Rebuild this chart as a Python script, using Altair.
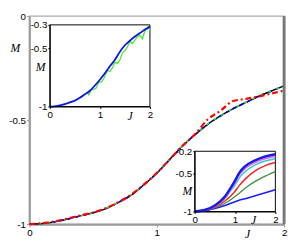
import altair as alt
import pandas as pd

# ---------------- data ----------------
# main panel
J = [0.0, 0.1, 0.2, 0.3, 0.4, 0.5, 0.6, 0.7, 0.8, 0.9, 1.0,
     1.1, 1.2, 1.3, 1.4, 1.5, 1.6, 1.7, 1.8, 1.9, 2.0]
M_BLACK = [-1.0, -0.997, -0.988, -0.975, -0.96, -0.945, -0.925, -0.895, -0.86, -0.81, -0.755,
           -0.69, -0.625, -0.57, -0.52, -0.48, -0.445, -0.415, -0.385, -0.36, -0.335]
M_RED = [-1.0, -0.995, -0.986, -0.973, -0.958, -0.944, -0.923, -0.894, -0.858, -0.809, -0.754,
         -0.69, -0.625, -0.568, -0.497, -0.455, -0.408, -0.398, -0.386, -0.372, -0.358]
M_GREEN = [-1.0, -0.997, -0.987, -0.975, -0.96, -0.944, -0.924, -0.894, -0.859, -0.81, -0.754,
           -0.689, -0.624, -0.569, -0.519, -0.479, -0.444, -0.414, -0.384, -0.359, -0.334]
M_BLUE = [-1.0, -0.997, -0.988, -0.976, -0.961, -0.945, -0.925, -0.895, -0.86, -0.811, -0.755,
          -0.69, -0.625, -0.57, -0.52, -0.48, -0.445, -0.415, -0.385, -0.36, -0.335]

# inset 1 (top left)
J1 = J
M1_BLUE = [-1.0, -0.998, -0.99, -0.98, -0.965, -0.95, -0.925, -0.895, -0.865, -0.82, -0.77,
           -0.715, -0.655, -0.6, -0.53, -0.475, -0.435, -0.4, -0.37, -0.34, -0.315]
J1_GREEN = [0.0, 0.2, 0.4, 0.6, 0.75, 0.78, 0.82, 0.88, 0.92, 0.98, 1.03, 1.08, 1.15, 1.2,
            1.26, 1.3, 1.35, 1.4, 1.45, 1.5, 1.55, 1.6, 1.65, 1.7, 1.75, 1.8, 1.85, 1.9,
            1.95, 1.97, 2.0]
M1_GREEN = [-1.0, -0.99, -0.965, -0.925, -0.88, -0.9, -0.86, -0.85, -0.845, -0.79, -0.79,
            -0.76, -0.69, -0.7, -0.66, -0.62, -0.63, -0.6, -0.54, -0.52, -0.49, -0.44,
            -0.46, -0.43, -0.4, -0.39, -0.42, -0.35, -0.33, -0.31, -0.35]

# inset 2 (bottom right)
J2 = [0.0, 0.25, 0.5, 0.75, 0.9, 1.0, 1.1, 1.25, 1.5, 1.75, 2.0]
M2_SERIES = {
    "s1": [-1, -0.99, -0.96, -0.92, -0.89, -0.87, -0.85, -0.83, -0.79, -0.75, -0.71],
    "s2": [-1, -0.99, -0.95, -0.89, -0.84, -0.80, -0.76, -0.69, -0.60, -0.53, -0.47],
    "s3": [-1, -0.985, -0.94, -0.86, -0.79, -0.73, -0.66, -0.57, -0.46, -0.39, -0.35],
    "s4": [-1, -0.98, -0.93, -0.83, -0.72, -0.65, -0.56, -0.47, -0.38, -0.33, -0.30],
    "s5": [-1, -0.98, -0.93, -0.82, -0.70, -0.62, -0.52, -0.43, -0.35, -0.30, -0.27],
    "s6": [-1, -0.98, -0.92, -0.80, -0.68, -0.59, -0.49, -0.40, -0.32, -0.27, -0.24],
}
M2_COLORS = {"s1": "#1a1aff", "s2": "#3c903c", "s3": "#ff2020",
             "s4": "#33cccc", "s5": "#ee66dd", "s6": "#1a1aee"}
M2_WIDTH = {"s1": 1.5, "s2": 1.3, "s3": 1.5, "s4": 1.5, "s5": 1.5, "s6": 2.5}

# tick values and labels
MAIN_X_TICKS = [0, 1, 2]
MAIN_X_LABELS = ["0", "1", "2"]
MAIN_Y_TICKS = [-1, -0.5, 0]
MAIN_Y_LABELS = ["-1", "-0.5", "0"]
IN1_Y_TICKS = [-1, -0.5, -0.3]
IN1_Y_LABELS = ["-1", "-0.5", "-0.3"]
IN2_Y_TICKS = [-1, -0.5, -0.2]
IN2_Y_LABELS = ["-1", "-0.5", "-0.2"]

W, H = 262, 214
SANS = "Liberation Sans"
SERIF = "Liberation Serif"


def label_expr(ticks, labels):
    expr = "''"
    for t, l in zip(ticks, labels):
        expr = f"abs(datum.value - ({t})) < 1e-6 ? '{l}' : ({expr})"
    return expr


def make_axis(ticks, labels, title, tx, ty, color, dwidth, offset=0, orient="bottom",
              tsize=3, zindex=0):
    return alt.Axis(
        values=ticks, labelExpr=label_expr(ticks, labels), orient=orient, offset=offset,
        grid=False, domainColor=color, domainWidth=dwidth, tickColor=color,
        tickSize=tsize, tickWidth=1, labelFont=SANS, labelFontSize=10, labelColor="black",
        labelPadding=1, labelFlush=False, labelOverlap=False, labelBound=False,
        title=title, titleFont=SERIF, titleFontStyle="italic", titleFontWeight="normal",
        titleFontSize=12, titleColor="black", titleAngle=0, titleX=tx, titleY=ty,
        titleAlign="center", titleBaseline="middle", zindex=zindex,
    )


# ---------------- main panel ----------------
mx = alt.Scale(domain=[0, 2], range=[0, W], nice=False, zero=False)
my = alt.Scale(domain=[-1, 0], range=[H, 0], nice=False, zero=False)
ax_main_x = make_axis(MAIN_X_TICKS, MAIN_X_LABELS, "J", 224, 10, "#999999", 2)
ax_main_y = make_axis(MAIN_Y_TICKS, MAIN_Y_LABELS, "M", -15, 32, "#999999", 2, orient="left")


def main_line(vals, color, width, dash=None):
    df = pd.DataFrame({"J": J, "M": vals})
    kw = dict(color=color, strokeWidth=width, interpolate="monotone")
    if dash:
        kw["strokeDash"] = dash
    return alt.Chart(df).mark_line(**kw).encode(
        x=alt.X("J:Q", scale=mx, axis=ax_main_x),
        y=alt.Y("M:Q", scale=my, axis=ax_main_y),
    )


right_border = alt.Chart(pd.DataFrame({"J": [2]})).mark_rule(
    color="#777777", strokeWidth=3).encode(
    x=alt.X("J:Q", scale=mx, axis=ax_main_x))

main = alt.layer(
    main_line(M_BLACK, "black", 1.5),
    main_line(M_BLUE, "#0000ff", 1.6, [4, 4]),
    main_line(M_GREEN, "#33dd33", 1.6, [3, 6]),
    main_line(M_RED, "#ff0000", 2.2, [6, 3, 2, 3]),
    right_border,
)

# ---------------- inset 1 ----------------
i1x = alt.Scale(domain=[0, 2], range=[21, 124], nice=False, zero=False)
i1y = alt.Scale(domain=[-1, -0.3], range=[93, 9], nice=False, zero=False)
ax_i1x = make_axis(MAIN_X_TICKS, MAIN_X_LABELS, "J", 103, 9, "black", 1,
                   offset=93 - H, tsize=2, zindex=1)
ax_i1y = make_axis(IN1_Y_TICKS, IN1_Y_LABELS, "M", -10, 52, "black", 1,
                   offset=-21, orient="left", tsize=2, zindex=1)

frame1 = alt.Chart(pd.DataFrame({"x": [0], "x2": [2], "y": [-1], "y2": [-0.3]})).mark_rect(
    fillOpacity=0, stroke="black", strokeWidth=1).encode(
    x=alt.X("x:Q", scale=i1x, axis=ax_i1x), x2="x2:Q",
    y=alt.Y("y:Q", scale=i1y, axis=ax_i1y), y2="y2:Q")


def in1_line(js, vals, color, width, interp="linear"):
    df = pd.DataFrame({"J": js, "M": vals})
    return alt.Chart(df).mark_line(color=color, strokeWidth=width, interpolate=interp).encode(
        x=alt.X("J:Q", scale=i1x, axis=ax_i1x),
        y=alt.Y("M:Q", scale=i1y, axis=ax_i1y),
    )


inset1 = alt.layer(
    frame1,
    in1_line(J1_GREEN, M1_GREEN, "#44ee22", 1.3),
    in1_line(J1, M1_BLUE, "#1010ee", 1.8, "monotone"),
)

# ---------------- inset 2 ----------------
i2x = alt.Scale(domain=[0, 2], range=[170, 253], nice=False, zero=False)
i2y = alt.Scale(domain=[-1, -0.2], range=[201, 139], nice=False, zero=False)
ax_i2x = make_axis(MAIN_X_TICKS, MAIN_X_LABELS, "J", 230, 8, "black", 1,
                   offset=201 - H, tsize=2, zindex=1)
ax_i2y = make_axis(IN2_Y_TICKS, IN2_Y_LABELS, "M", -8, 179, "black", 1,
                   offset=-170, orient="left", tsize=2, zindex=1)

frame2 = alt.Chart(pd.DataFrame({"x": [0], "x2": [2], "y": [-1], "y2": [-0.2]})).mark_rect(
    fillOpacity=0, stroke="black", strokeWidth=1).encode(
    x=alt.X("x:Q", scale=i2x, axis=ax_i2x), x2="x2:Q",
    y=alt.Y("y:Q", scale=i2y, axis=ax_i2y), y2="y2:Q")

in2_layers = [frame2]
for key, vals in M2_SERIES.items():
    df = pd.DataFrame({"J": J2, "M": vals})
    in2_layers.append(
        alt.Chart(df).mark_line(color=M2_COLORS[key], strokeWidth=M2_WIDTH[key],
                                interpolate="monotone").encode(
            x=alt.X("J:Q", scale=i2x, axis=ax_i2x),
            y=alt.Y("M:Q", scale=i2y, axis=ax_i2y),
        )
    )
inset2 = alt.layer(*in2_layers)

chart = alt.layer(main, inset1, inset2).resolve_scale(
    x="independent", y="independent"
).properties(
    width=W, height=H,
    autosize=alt.AutoSizeParams(type="none"),
    padding={"left": 22, "top": 5, "right": 4, "bottom": 15},
    background="white",
).configure_view(stroke="#aaaaaa", strokeWidth=1.5)

chart.save("out.html", embed_options={"renderer": "svg", "actions": False})
